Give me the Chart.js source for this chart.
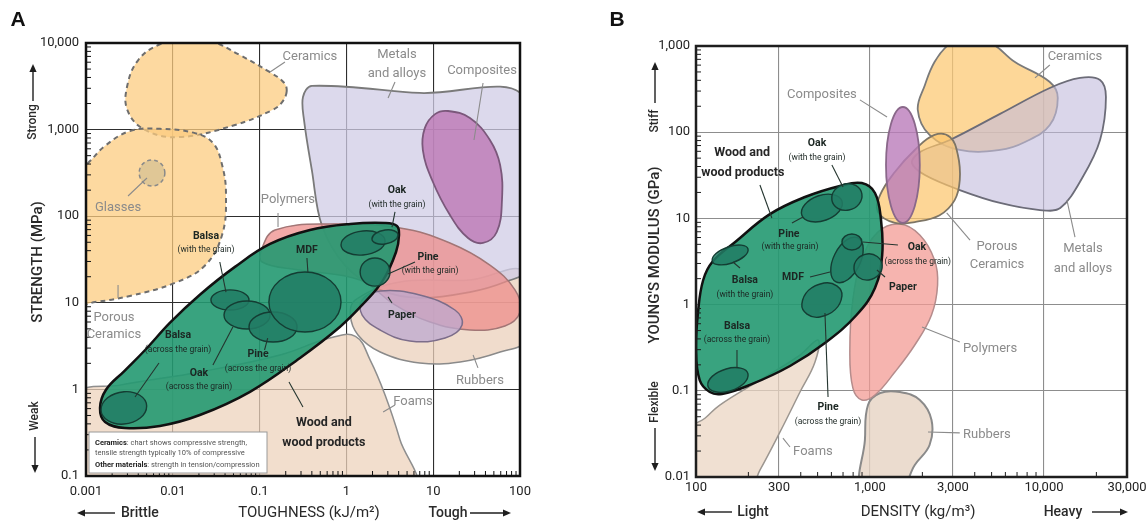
<!DOCTYPE html>
<html>
<head>
<meta charset="utf-8">
<title>Wood in material property charts</title>
<script src="https://cdn.jsdelivr.net/npm/chart.js@4.4.1/dist/chart.umd.min.js"></script>
<style>
  html, body { margin: 0; padding: 0; background: #fff; }
  .panel { position: absolute; top: 0; height: 525px; }
  #panelA { left: 0; width: 570px; }
  #panelB { left: 570px; width: 578px; }
</style>
</head>
<body>
<div class="panel" id="panelA"><canvas id="chartA"></canvas></div>
<div class="panel" id="panelB"><canvas id="chartB"></canvas></div>
<script>
// ---------------- panel A : strength vs toughness ----------------
const toughnessTicks = [0.001, 0.01, 0.1, 1, 10, 100];
const toughnessLabels = ['0.001', '0.01', '0.1', '1', '10', '100'];
const strengthTicks = [0.1, 1, 10, 100, 1000, 10000];
const strengthLabels = ['0.1', '1', '10', '100', '1,000', '10,000'];

// outlines as [toughness kJ/m2, strength MPa]
const foamsA = [[0.0008,0.86],[0.00246,1.12],[0.0205,1.59],[0.172,2.5],[0.643,3.92],[1.27,4.1],[1.88,2.18],[2.79,0.861],[4.15,0.261],[5.7,0.079],[0.0008,0.079]];
const rubbersA = [[1.27,10.8],[4.15,17.4],[26.5,18.3],[114,22.7],[114,3.72],[59,2.7],[20.4,2.07],[7.0,2.02],[2.45,2.7],[1.36,4.25],[1.11,7.22]];
const metalsA = [[0.40,3200],[7.0,2650],[114,2320],[114,23.9],[67,17.4],[26.5,13.3],[7.0,11.4],[2.45,14.1],[0.96,27.3],[0.52,79],[0.40,340],[0.325,1290],[0.316,2380]];
const polymersA = [[0.107,43],[0.151,69.3],[0.643,81.3],[4.15,73.1],[15.6,49.1],[45,27.3],[87.5,14.1],[100,7.83],[67,5.39],[26.5,4.85],[9.2,6.0],[3.63,9.44],[1.44,18.3],[0.292,23.9],[0.107,29.6]];
const paperA = [[1.52,10.8],[2.45,13.7],[7.0,12.3],[17.8,8.26],[21.5,5.54],[13.7,3.92],[5.38,3.62],[2.45,4.85],[1.52,7.22]];
const compositesA = [[14.8,1640],[26.5,1360],[45,759],[59,390],[62,154],[54,65.7],[37.5,49.1],[25.2,56],[15.6,103],[9.7,262],[7.6,581],[8.0,1040],[10.5,1510]];
const ceramicsA = [[0.205,2750],[0.18,2050],[0.14,1680],[0.052,1130],[0.012,820],[0.0048,990],[0.003,1680],[0.003,3270],[0.004,6360],[0.0068,9480],[0.012,10500],[0.027,10500],[0.059,7260],[0.13,4630],[0.19,3500]];
const porousA = [[0.00085,360],[0.00105,410],[0.00166,650],[0.0032,960],[0.0071,1020],[0.018,910],[0.029,700],[0.037,390],[0.041,176],[0.037,61],[0.0235,27],[0.0106,17],[0.0032,12],[0.00127,10.2],[0.00085,10],[0.0007,60]];
const glassesA = [[0.0081,316],[0.00575,446],[0.0041,316],[0.00575,223]];
const woodA = [[0.00145,0.61],[0.0017,0.99],[0.0028,1.65],[0.0048,2.85],[0.0093,5.9],[0.0205,12.4],[0.052,26],[0.132,47.8],[0.38,69.3],[1.11,81.3],[2.79,83.4],[3.82,77.1],[4.04,60.7],[3.73,38.6],[2.65,18.3],[1.52,9.44],[0.84,5.26],[0.292,2.31],[0.0775,0.938],[0.0205,0.506],[0.0071,0.378],[0.0028,0.358],[0.00166,0.42]];
const balsaAcrossA = [[0.005,0.643],[0.00274,0.94],[0.00149,0.578],[0.00274,0.398]];
const balsaWithA = [[0.0755,10.8],[0.0456,14.1],[0.0275,10.8],[0.0456,8.26]];
const oakAcrossA = [[0.132,7.22],[0.0716,10.5],[0.0389,7.22],[0.0716,4.98]];
const pineAcrossA = [[0.27,5.26],[0.143,7.83],[0.0755,5.26],[0.143,3.52]];
const mdfA = [[0.867,10.2],[0.333,22.7],[0.128,10.2],[0.333,4.6]];
const oakWithA = [[2.79,51.8],[1.55,67.5],[0.867,46.5],[1.55,35.7]];
const oakWith2A = [[3.93,60.7],[2.79,69.3],[1.97,54.5],[2.79,47.8]];
const pineWithA = [[3.18,22.7],[2.13,32.9],[1.44,22.7],[2.13,15.6]];

// ---------------- panel B : modulus vs density ----------------
const densityTicks = [100, 300, 1000, 3000, 10000, 30000];
const densityLabels = ['100', '300', '1,000', '3,000', '10,000', '30,000'];
const modulusTicks = [0.01, 0.1, 1, 10, 100, 1000];
const modulusLabels = ['0.01', '0.1', '1', '10', '100', '1,000'];

// outlines as [density kg/m3, modulus GPa]
const foamsB = [[92,0.0351],[113,0.0483],[137,0.0684],[233,0.133],[396,0.26],[502,0.388],[483,0.216],[396,0.0968],[304,0.0333],[233,0.012],[199,0.0071],[92,0.0071]];
const rubbersB = [[900,0.0071],[935,0.0269],[974,0.0684],[1144,0.0942],[1486,0.0968],[1933,0.0782],[2257,0.0458],[2200,0.0235],[1809,0.0138],[1486,0.0071]];
const polymersB = [[1486,8.61],[1933,6.41],[2349,3.29],[2446,1.69],[2257,0.757],[1809,0.34],[1390,0.165],[1068,0.0893],[898,0.0782],[797,0.108],[766,0.297],[797,1.13],[898,3.29],[1110,6.95]];
const ceramicsB = [[3281,1174],[4900,1083],[6810,652],[10800,382],[12000,250],[10800,121],[7780,77],[5590,62.2],[3281,62.2],[2200,92.9],[1882,181],[2069,353],[2349,652],[2810,1027]];
const metalsB = [[16100,426],[21000,403],[22700,256],[21000,81.2],[16700,30.2],[12400,13.2],[9480,12.5],[5590,15.1],[3281,21.3],[2069,31.8],[1742,43.9],[1940,58.9],[2880,81.2],[5590,163],[10800,326]];
const porousB = [[1110,11.9],[1144,18.7],[1390,34.5],[1809,62.2],[2349,92.9],[2880,88],[3200,54.4],[3281,27.9],[3066,16.3],[2513,10.9],[1809,9.08],[1390,8.85]];
const compositesB = [[1933,41.6],[1545,196],[1236,41.6],[1545,8.85]];
const woodB = [[120,0.0968],[105,0.133],[100,0.297],[103,0.865],[110,1.93],[124,3.12],[168,5.32],[266,11.2],[423,17.7],[672,23.8],[898,25.7],[1068,19.7],[1157,9.58],[1175,3.76],[1068,1.56],[837,0.757],[551,0.358],[347,0.194],[204,0.117],[141,0.092]];
const balsaAcrossB = [[199,0.157],[149,0.179],[117,0.114],[157,0.0995]];
const balsaWithB = [[199,4.42],[153,4.66],[124,3.2],[161,3.04]];
const pineWithB = [[690,15.9],[502,18.2],[406,10.9],[559,9.58]];
const oakWithB = [[898,19.2],[718,25.1],[604,16.3],[757,12.5]];
const oakAcrossB = [[864,2.81],[853,5.93],[629,3.87],[638,1.83]];
const oakSmallB = [[898,5.32],[787,6.59],[690,5.32],[787,4.3]];
const paperB = [[1175,2.88],[961,3.87],[809,2.59],[986,1.93]];
const pineAcrossB = [[690,1.26],[544,1.78],[406,1.02],[515,0.718]];

// ---------------- annotation text ----------------
const labelsA = [
  ['Ceramics', 0.38, 6890, 'cls'], ['Metals', 3.82, 7260, 'cls'], ['and alloys', 3.82, 4390, 'cls'],
  ['Composites', 36.5, 4750, 'cls'], ['Glasses', 0.00234, 124, 'cls'],
  ['Porous', 0.0021, 6.67, 'cls'], ['Ceramics', 0.0021, 4.25, 'cls'],
  ['Polymers', 0.212, 154, 'cls'], ['Rubbers', 34.6, 1.25, 'cls'], ['Foams', 5.85, 0.716, 'cls'],
  ['Oak', 3.82, 201, 'name'], ['(with the grain)', 3.82, 135, 'sub'],
  ['Pine', 8.71, 33.8, 'name'], ['(with the grain)', 9.2, 23.3, 'sub'],
  ['MDF', 0.351, 40.7, 'name'],
  ['Balsa', 0.0241, 59, 'name'], ['(with the grain)', 0.0241, 40.7, 'sub'],
  ['Paper', 4.36, 7.22, 'name'],
  ['Balsa', 0.0115, 4.25, 'name'], ['(across the grain)', 0.0115, 2.85, 'sub'],
  ['Oak', 0.02, 1.55, 'name'], ['(across the grain)', 0.02, 1.07, 'sub'],
  ['Pine', 0.0959, 2.56, 'name'], ['(across the grain)', 0.0959, 1.72, 'sub'],
  ['Wood and', 0.55, 0.41, 'big'], ['wood products', 0.55, 0.24, 'big']
];
const leadersA = [
  [0.196,6040, 0.132,4630,'cls'], [3.63,3548, 3.02,2320,'cls'], [37.5,3450, 29.5,759,'cls'],
  [0.00305,171, 0.00504,276,'cls'], [0.00234,16.1, 0.00234,11.4,'cls'], [0.163,109, 0.163,75,'cls'],
  [28.8,2.5, 32.8,1.77,'cls'], [3.63,0.661, 2.65,0.548,'cls'],
  [3.63,112, 3.35,75,'name'], [6.17,29.6, 3.02,21.5,'name'], [0.351,32.9, 0.36,22.7,'name'],
  [0.0348,29.6, 0.041,13.3,'name'], [3.35,9.95, 3.02,11.7,'name'], [0.00693,2.02, 0.00367,0.817,'name'],
  [0.029,1.91, 0.0492,5.26,'name'], [0.124,3.92, 0.114,2.85,'name'], [0.218,1.22, 0.316,0.627,'name']
];
const labelsB = [
  ['Composites', 529, 270, 'cls'], ['Ceramics', 15070, 746, 'cls'],
  ['Porous', 5370, 4.66, 'cls'], ['Ceramics', 5370, 2.88, 'cls'],
  ['Metals', 16750, 4.42, 'cls'], ['and alloys', 16750, 2.59, 'cls'],
  ['Polymers', 4900, 0.305, 'cls'], ['Foams', 470, 0.0195, 'cls'], ['Rubbers', 4700, 0.0307, 'cls'],
  ['Oak', 496, 75, 'name'], ['(with the grain)', 496, 50.3, 'sub'],
  ['Pine', 342, 6.59, 'name'], ['(with the grain)', 347, 4.66, 'sub'],
  ['Oak', 1862, 4.66, 'name'], ['(across the grain)', 1882, 3.12, 'sub'],
  ['Paper', 1545, 1.6, 'name'], ['MDF', 361, 2.09, 'name'],
  ['Balsa', 191, 1.93, 'name'], ['(with the grain)', 191, 1.29, 'sub'],
  ['Balsa', 172, 0.565, 'name'], ['(across the grain)', 172, 0.388, 'sub'],
  ['Pine', 574, 0.0649, 'name'], ['(across the grain)', 574, 0.0435, 'sub'],
  ['Wood and', 184, 57.4, 'big'], ['wood products', 186, 33.6, 'big']
];
const leadersB = [
  [875,237, 1253,150,'cls'], [10800,602, 8880,426,'cls'], [2759,11.6, 3758,5.61,'cls'],
  [13550,16.3, 15070,6.08,'cls'], [1990,0.55, 3281,0.368,'cls'], [316,0.0283, 347,0.0223,'cls'],
  [2154,0.0333, 3281,0.0325,'cls'],
  [604,41.6, 700,23.1,'name'], [233,24.4, 273,10.1,'name'], [356,8.85, 412,10.4,'name'],
  [910,5.32, 1447,4.91,'name'], [1096,2.52, 1220,2.09,'name'], [452,2.09, 589,2.39,'name'],
  [163,3.12, 179,2.66,'name'], [172,0.297, 172,0.184,'name'], [574,0.0847, 551,0.8,'name']
];

// ---------------- styling ----------------
const FONT = 'Roboto, "Noto Sans", sans-serif';
const TEXT = {
  cls:  { font: '13px ' + FONT, color: '#8b8b8b' },
  name: { font: 'bold 10.5px ' + FONT, color: '#1c2723' },
  sub:  { font: '8.5px ' + FONT, color: '#1c2723' },
  big:  { font: 'bold 12.5px ' + FONT, color: '#262626' }
};
const WOOD = 'rgba(36,153,113,0.9)';
const CELL = 'rgba(34,124,101,0.85)';

function region(points, fill, stroke, width, tension, dash) {
  return {
    data: points.map(([x, y]) => ({ x, y })),
    showLine: true, fill: 'shape', tension: tension,
    backgroundColor: fill, borderColor: stroke, borderWidth: width, borderDash: dash || [],
    pointRadius: 0, pointHoverRadius: 0
  };
}
const cell = pts => region(pts, CELL, '#143d33', 1.4, 0.55);

// line datasets are open by default; close every outline into a smooth loop
const closeOutlines = {
  id: 'closeOutlines',
  afterDatasetUpdate(chart, args) {
    const line = args.meta.dataset;
    if (!line) return;
    line._loop = true;
    line._fullLoop = true;
    line._pointsUpdated = false;
    delete line._segments;
    delete line._path;
  }
};

function minorValues(min, max, majors) {
  const out = [];
  for (let e = Math.floor(Math.log10(min)); e <= Math.ceil(Math.log10(max)); e++) {
    for (let k = 2; k <= 9; k++) {
      const v = parseFloat((k * Math.pow(10, e)).toPrecision(6));
      if (v > min && v < max && !majors.includes(v)) out.push(v);
    }
  }
  return out;
}

function vText(ctx, text, x, y, font, color) {
  ctx.save();
  ctx.translate(x, y); ctx.rotate(-Math.PI / 2);
  ctx.font = font; ctx.fillStyle = color; ctx.textAlign = 'center'; ctx.textBaseline = 'middle';
  ctx.fillText(text, 0, 0);
  ctx.restore();
}
function hText(ctx, text, x, y, font, color, align) {
  ctx.font = font; ctx.fillStyle = color; ctx.textAlign = align || 'center'; ctx.textBaseline = 'middle';
  ctx.fillText(text, x, y);
}
function arrow(ctx, x1, y1, x2, y2) {
  const a = Math.atan2(y2 - y1, x2 - x1), L = 8, W = 3.6;
  const bx = x2 - Math.cos(a) * L, by = y2 - Math.sin(a) * L;
  ctx.save();
  ctx.strokeStyle = ctx.fillStyle = '#1e1e1e'; ctx.lineWidth = 1.4;
  ctx.beginPath(); ctx.moveTo(x1, y1); ctx.lineTo(bx, by); ctx.stroke();
  ctx.beginPath(); ctx.moveTo(x2, y2);
  ctx.lineTo(bx - Math.sin(a) * W, by + Math.cos(a) * W);
  ctx.lineTo(bx + Math.sin(a) * W, by - Math.cos(a) * W);
  ctx.closePath(); ctx.fill();
  ctx.restore();
}

function decor(spec) {
  return {
    id: 'decor',
    afterDatasetsDraw(chart) {
      const { ctx, chartArea: a } = chart;
      const xs = chart.scales.x, ys = chart.scales.y;
      ctx.save();
      ctx.strokeStyle = spec.frame; ctx.lineWidth = 1;
      ctx.beginPath();
      minorValues(xs.min, xs.max, spec.xTicks).forEach(v => {
        const p = xs.getPixelForValue(v); ctx.moveTo(p, a.bottom); ctx.lineTo(p, a.bottom - 5);
      });
      minorValues(ys.min, ys.max, spec.yTicks).forEach(v => {
        const p = ys.getPixelForValue(v); ctx.moveTo(a.left, p); ctx.lineTo(a.left + 5, p);
      });
      ctx.stroke();
      ctx.lineWidth = 2.5;
      ctx.strokeRect(a.left, a.top, a.right - a.left, a.bottom - a.top);
      if (spec.note) spec.note(ctx, a);
      ctx.lineWidth = 1.1;
      spec.leaders.forEach(([x1, y1, x2, y2, kind]) => {
        ctx.strokeStyle = kind === 'cls' ? '#8b8b8b' : '#24352f';
        ctx.beginPath();
        ctx.moveTo(xs.getPixelForValue(x1), ys.getPixelForValue(y1));
        ctx.lineTo(xs.getPixelForValue(x2), ys.getPixelForValue(y2));
        ctx.stroke();
      });
      spec.labels.forEach(([t, x, y, kind]) => {
        hText(ctx, t, xs.getPixelForValue(x), ys.getPixelForValue(y), TEXT[kind].font, TEXT[kind].color);
      });
      ctx.restore();
    },
    afterDraw(chart) {
      const ctx = chart.ctx;
      ctx.save();
      spec.titles(ctx, chart.chartArea);
      ctx.restore();
    }
  };
}

function logAxis(ticks, labels, size, pad, gridColor, horizontal) {
  return {
    type: 'logarithmic', min: ticks[0], max: ticks[ticks.length - 1],
    afterBuildTicks: s => { s.ticks = ticks.map(v => ({ value: v })); },
    afterFit: s => {
      if (horizontal) { s.height = size; s.paddingLeft = 0; s.paddingRight = 0; }
      else { s.width = size; s.paddingTop = 0; s.paddingBottom = 0; }
    },
    grid: { color: gridColor, lineWidth: 1.1, drawTicks: false },
    border: { display: false },
    ticks: {
      autoSkip: false, maxRotation: 0, minRotation: 0, padding: pad, color: '#222',
      font: { family: FONT, size: 13 },
      callback: (v, i) => labels[i]
    }
  };
}

function makeChart(id, layers, padding, x, y, spec) {
  return new Chart(document.getElementById(id), {
    type: 'scatter',
    data: { datasets: layers.slice().reverse() },
    options: {
      responsive: true, maintainAspectRatio: false, animation: false, events: [],
      layout: { padding },
      elements: { line: { capBezierPoints: false } },
      plugins: { legend: { display: false }, tooltip: { enabled: false } },
      scales: { x, y }
    },
    plugins: [closeOutlines, decor(spec)]
  });
}

// ---------- panel A ----------
makeChart('chartA', [
  region(foamsA, 'rgba(238,211,188,0.75)', '#8e8e8e', 1.5, 0.4),
  region(rubbersA, 'rgba(235,208,187,0.75)', '#8a8a8a', 1.5, 0.4),
  region(metalsA, 'rgba(208,204,230,0.75)', '#7a7a7a', 1.8, 0.35),
  region(polymersA, 'rgba(238,142,139,0.75)', '#a27676', 1.5, 0.4),
  region(paperA, 'rgba(188,168,208,0.75)', '#7c6d8a', 1.5, 0.4),
  region(compositesA, 'rgba(187,114,177,0.75)', '#7b587b', 1.8, 0.4),
  region(ceramicsA, 'rgba(252,204,128,0.75)', '#6e6e6e', 2, 0.4, [5, 4]),
  region(porousA, 'rgba(252,204,128,0.75)', '#6e6e6e', 2, 0.4, [5, 4]),
  region(glassesA, 'rgba(216,194,147,0.8)', '#8a8a8a', 1.5, 0.55, [4, 3]),
  region(woodA, WOOD, '#111', 2.5, 0.4),
  cell(balsaAcrossA), cell(balsaWithA), cell(oakAcrossA), cell(pineAcrossA),
  cell(mdfA), cell(oakWithA), cell(oakWith2A), cell(pineWithA)
], { left: 0, top: 43, right: 50, bottom: 0 },
  logAxis(toughnessTicks, toughnessLabels, 49, 8, '#2e2e2e', true),
  logAxis(strengthTicks, strengthLabels, 86, 7, '#2e2e2e', false),
  {
    frame: '#111', xTicks: toughnessTicks, yTicks: strengthTicks, labels: labelsA, leaders: leadersA,
    note(ctx, a) {
      const x = a.left + 3, y = a.bottom - 44;
      ctx.fillStyle = '#fff'; ctx.fillRect(x, y, 178, 41);
      ctx.strokeStyle = '#9a9a9a'; ctx.lineWidth = 1; ctx.strokeRect(x, y, 178, 41);
      const rows = [['Ceramics', ': chart shows compressive strength,', 11],
                    ['', 'tensile strength typically 10% of compressive', 21],
                    ['Other materials', ': strength in tension/compression', 33]];
      rows.forEach(([b, t, dy]) => {
        ctx.textAlign = 'left'; ctx.textBaseline = 'middle';
        ctx.font = 'bold 7.5px ' + FONT; ctx.fillStyle = '#222';
        ctx.fillText(b, x + 6, y + dy);
        const w = b ? ctx.measureText(b).width : 0;
        ctx.font = '7.5px ' + FONT; ctx.fillStyle = '#555';
        ctx.fillText(t, x + 6 + w, y + dy);
      });
    },
    titles(ctx, a) {
      vText(ctx, 'STRENGTH (MPa)', a.left - 48, 262, '500 15px ' + FONT, '#2a2a2a');
      vText(ctx, 'Strong', a.left - 53, 122, '500 12px ' + FONT, '#2a2a2a');
      arrow(ctx, a.left - 53, 101, a.left - 53, 64);
      vText(ctx, 'Weak', a.left - 51, 416, '500 12px ' + FONT, '#2a2a2a');
      arrow(ctx, a.left - 51, 437, a.left - 51, 473);
      arrow(ctx, 115, 513, 77, 513);
      hText(ctx, 'Brittle', 121, 513, '500 14px ' + FONT, '#2a2a2a', 'left');
      hText(ctx, 'TOUGHNESS (kJ/m²)', 309, 513, '15px ' + FONT, '#2a2a2a');
      hText(ctx, 'Tough', 448, 513, '500 14px ' + FONT, '#2a2a2a');
      arrow(ctx, 470, 513, 511, 513);
      hText(ctx, 'A', 18, 20, 'bold 21px "Liberation Sans", Arial, sans-serif', '#111');
    }
  });

// ---------- panel B ----------
makeChart('chartB', [
  region(foamsB, 'rgba(235,214,195,0.75)', '#9c9690', 1.5, 0.4),
  region(rubbersB, 'rgba(230,211,195,0.8)', '#8a8a8a', 2, 0.4),
  region(polymersB, 'rgba(243,155,148,0.75)', '#b58c8c', 1.5, 0.4),
  region(ceramicsB, 'rgba(252,202,118,0.75)', '#7a7a7a', 1.8, 0.4),
  region(metalsB, 'rgba(193,187,220,0.6)', '#6c6c78', 1.8, 0.35),
  region(porousB, 'rgba(252,196,105,0.7)', '#7d7566', 1.8, 0.4),
  region(compositesB, 'rgba(186,124,186,0.8)', '#8a688a', 1.8, 0.55),
  region(woodB, WOOD, '#111', 2.5, 0.4),
  cell(balsaAcrossB), cell(balsaWithB), cell(pineWithB), cell(oakWithB),
  cell(pineAcrossB), cell(oakAcrossB), cell(oakSmallB), cell(paperB)
], { left: 0, top: 46, right: 21, bottom: 0 },
  logAxis(densityTicks, densityLabels, 48, 3, '#8d8d8d', true),
  logAxis(modulusTicks, modulusLabels, 126, 6, '#8d8d8d', false),
  {
    frame: '#1e1e1e', xTicks: densityTicks, yTicks: modulusTicks, labels: labelsB, leaders: leadersB,
    titles(ctx, a) {
      vText(ctx, "YOUNG'S MODULUS (GPa)", 85, 255, '500 15px ' + FONT, '#2a2a2a');
      vText(ctx, 'Stiff', 85, 121, '500 12px ' + FONT, '#2a2a2a');
      arrow(ctx, 85, 103, 85, 62);
      vText(ctx, 'Flexible', 85, 402, '500 12px ' + FONT, '#2a2a2a');
      arrow(ctx, 85, 428, 85, 471);
      arrow(ctx, 162, 512, 127, 512);
      hText(ctx, 'Light', 183, 512, '500 14px ' + FONT, '#2a2a2a');
      hText(ctx, 'DENSITY (kg/m³)', 348, 512, '15px ' + FONT, '#2a2a2a');
      hText(ctx, 'Heavy', 493, 512, '500 14px ' + FONT, '#2a2a2a');
      arrow(ctx, 522, 512, 558, 512);
      hText(ctx, 'B', 47, 20, 'bold 21px "Liberation Sans", Arial, sans-serif', '#111');
    }
  });
</script>
</body>
</html>
